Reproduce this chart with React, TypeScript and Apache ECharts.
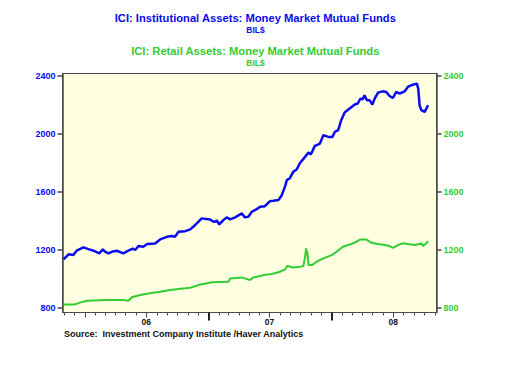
import React, { useEffect, useRef } from "react";
import * as echarts from "echarts";

// ICI: Institutional Assets: Money Market Mutual Funds (BIL$)
const instDates = [
  "2005-10-29", "2005-11-13", "2005-11-27", "2005-12-07", "2005-12-27", "2006-01-11", "2006-01-26",
  "2006-02-12", "2006-02-22", "2006-03-01", "2006-03-11", "2006-03-24", "2006-04-05", "2006-04-24",
  "2006-05-09", "2006-05-22", "2006-05-29", "2006-06-08", "2006-06-22", "2006-07-04", "2006-07-27",
  "2006-08-11", "2006-08-31", "2006-09-14", "2006-09-24", "2006-10-04", "2006-10-24", "2006-11-08",
  "2006-11-17", "2006-12-02", "2006-12-12", "2007-01-06", "2007-01-16", "2007-01-26", "2007-02-02",
  "2007-02-14", "2007-02-24", "2007-03-06", "2007-03-21", "2007-04-10", "2007-04-19", "2007-04-29",
  "2007-05-09", "2007-05-24", "2007-06-03", "2007-06-17", "2007-07-02", "2007-07-12", "2007-07-27",
  "2007-08-06", "2007-08-16", "2007-08-21", "2007-08-30", "2007-09-09", "2007-09-19", "2007-09-29",
  "2007-10-14", "2007-10-24", "2007-10-31", "2007-11-12", "2007-11-27", "2007-12-07", "2007-12-22",
  "2008-01-03", "2008-01-10", "2008-01-20", "2008-01-29", "2008-02-08", "2008-02-23", "2008-03-09",
  "2008-03-18", "2008-03-26", "2008-04-02", "2008-04-07", "2008-04-14", "2008-04-22", "2008-04-30",
  "2008-05-07", "2008-05-17", "2008-05-31", "2008-06-10", "2008-06-20", "2008-06-30", "2008-07-10",
  "2008-07-20", "2008-08-04", "2008-08-13", "2008-08-28", "2008-09-09", "2008-09-13", "2008-09-17",
  "2008-09-22", "2008-10-02", "2008-10-07", "2008-10-12",
];
const instValues = [
  1135, 1170, 1165, 1195, 1218, 1206, 1195,
  1177, 1204, 1188, 1177, 1190, 1195, 1177,
  1195, 1209, 1200, 1227, 1222, 1241, 1245,
  1273, 1291, 1296, 1291, 1325, 1330, 1342,
  1360, 1394, 1418, 1411, 1394, 1402, 1376,
  1406, 1425, 1411, 1425, 1452, 1425, 1429,
  1463, 1482, 1498, 1502, 1537, 1539, 1544,
  1578, 1640, 1682, 1695, 1739, 1755, 1800,
  1842, 1872, 1858, 1918, 1934, 1991, 1980,
  1980, 2014, 2026, 2095, 2148, 2175, 2203,
  2210, 2244, 2239, 2267, 2233, 2233, 2203,
  2244, 2285, 2294, 2290, 2262, 2248, 2290,
  2279, 2294, 2324, 2340, 2347, 2313, 2198,
  2164, 2152, 2175, 2198,
];

// ICI: Retail Assets: Money Market Mutual Funds (BIL$)
const retailDates = [
  "2005-10-29", "2005-12-02", "2005-12-17", "2006-01-06", "2006-03-06", "2006-04-24", "2006-05-09",
  "2006-05-19", "2006-06-13", "2006-07-12", "2006-08-11", "2006-09-09", "2006-10-04", "2006-11-08",
  "2006-12-02", "2007-01-11", "2007-03-01", "2007-03-06", "2007-04-10", "2007-04-19", "2007-05-04",
  "2007-05-14", "2007-06-03", "2007-06-12", "2007-07-07", "2007-08-01", "2007-08-16", "2007-08-22",
  "2007-09-09", "2007-09-29", "2007-10-09", "2007-10-14", "2007-10-17", "2007-10-21", "2007-10-24",
  "2007-11-03", "2007-11-17", "2007-12-07", "2008-01-01", "2008-01-15", "2008-02-03", "2008-02-28",
  "2008-03-14", "2008-03-26", "2008-04-12", "2008-04-27", "2008-05-17", "2008-06-06", "2008-06-20",
  "2008-06-30", "2008-07-15", "2008-07-30", "2008-08-13", "2008-09-02", "2008-09-17", "2008-09-22",
  "2008-09-27", "2008-10-07", "2008-10-12",
];
const retailValues = [
  825, 825, 837, 850, 855, 855, 850,
  874, 890, 901, 912, 924, 931, 940,
  958, 977, 981, 1004, 1011, 1004, 993,
  1011, 1020, 1027, 1034, 1050, 1066, 1089,
  1080, 1084, 1089, 1153, 1211, 1177, 1096,
  1096, 1119, 1142, 1165, 1188, 1222, 1241,
  1257, 1273, 1273, 1250, 1241, 1234, 1227,
  1215, 1234, 1246, 1241, 1234, 1241, 1246,
  1227, 1246, 1261,
];

const yTickValues = [800, 1200, 1600, 2000, 2400];
const yearLabels = ["06", "07", "08"];
const yearLabelDates = ["2006-07-01", "2007-07-01", "2008-07-01"];
const longTickDates = ["2007-01-01", "2008-01-01"];
const midTickDates = ["2006-01-01", "2006-07-01", "2007-07-01", "2008-07-01"];
const axisStart = "2005-10-26";
const axisEnd = "2008-11-06";

const BLUE = "#0a0af0";
const GREEN = "#33cc33";
const AXIS = "#4a4a4a";
const FONT = "Liberation Sans, Arial, sans-serif";

function ts(s: string): number {
  const [y, m, d] = s.split("-").map(Number);
  return Date.UTC(y, m - 1, d);
}

function monthTicks(): number[] {
  const out: number[] = [];
  const start = ts(axisStart);
  const end = ts(axisEnd);
  for (let y = 2005; y <= 2008; y++) {
    for (let m = 0; m < 12; m++) {
      const t = Date.UTC(y, m, 1);
      if (t >= start && t <= end) out.push(t);
    }
  }
  return out;
}

export default function App() {
  const ref = useRef<HTMLDivElement>(null);

  useEffect(() => {
    if (!ref.current) return;
    const chart = echarts.init(ref.current, undefined, { renderer: "svg" });
    const minT = ts(axisStart);
    const maxT = ts(axisEnd);
    const labelTs = yearLabelDates.map(ts);

    const baseX = {
      type: "value" as const,
      min: minT,
      max: maxT,
      position: "bottom" as const,
      splitLine: { show: false },
      minorTick: { show: false },
    };

    const yLabel = (color: string, margin: number) => ({
      customValues: yTickValues,
      color,
      fontSize: 9,
      fontWeight: "bold",
      fontFamily: FONT,
      margin,
      formatter: (v: number) => String(Math.round(v)),
    });

    const option: any = {
      animation: false,
      backgroundColor: "#ffffff",
      grid: {
        left: 62.5,
        right: 74.5,
        top: 73.5,
        bottom: 56.5,
        show: true,
        backgroundColor: "#ffffe0",
        borderColor: AXIS,
        borderWidth: 1,
        containLabel: false,
        outerBoundsMode: "none",
      },
      xAxis: [
        {
          ...baseX,
          axisLine: { show: true, lineStyle: { color: AXIS, width: 1 } },
          axisTick: {
            show: true,
            length: 3,
            customValues: monthTicks(),
            lineStyle: { color: AXIS, width: 1 },
          },
          axisLabel: { show: false },
        },
        {
          ...baseX,
          axisLine: { show: false },
          axisTick: {
            show: true,
            length: 5,
            customValues: midTickDates.map(ts),
            lineStyle: { color: AXIS, width: 1 },
          },
          axisLabel: {
            show: true,
            customValues: labelTs,
            margin: 5,
            color: "#111",
            fontSize: 8.5,
            fontWeight: "bold",
            fontFamily: FONT,
            formatter: (v: number) => {
              let best = 0;
              for (let i = 1; i < labelTs.length; i++) {
                if (Math.abs(labelTs[i] - v) < Math.abs(labelTs[best] - v)) best = i;
              }
              return yearLabels[best];
            },
          },
        },
        {
          ...baseX,
          axisLine: { show: false },
          axisTick: {
            show: true,
            length: 8,
            customValues: longTickDates.map(ts),
            lineStyle: { color: "#222", width: 2 },
          },
          axisLabel: { show: false },
        },
      ],
      yAxis: [
        {
          type: "value",
          position: "left",
          min: 769,
          max: 2417,
          splitLine: { show: false },
          axisLine: { show: true, lineStyle: { color: AXIS, width: 1.5 } },
          axisTick: { show: true, length: 5, customValues: yTickValues, lineStyle: { color: AXIS, width: 1.5 } },
          axisLabel: yLabel(BLUE, 7),
        },
        {
          type: "value",
          position: "right",
          min: 769,
          max: 2417,
          splitLine: { show: false },
          axisLine: { show: true, lineStyle: { color: AXIS, width: 1.5 } },
          axisTick: { show: true, length: 5, customValues: yTickValues, lineStyle: { color: AXIS, width: 1.5 } },
          axisLabel: yLabel(GREEN, 7),
        },
      ],
      graphic: [
        {
          type: "text",
          left: "center",
          top: 12,
          style: {
            text: "ICI: Institutional Assets: Money Market Mutual Funds",
            fill: BLUE,
            font: `bold 11.2px ${FONT}`,
          },
        },
        {
          type: "text",
          left: "center",
          top: 25,
          style: { text: "BIL$", fill: BLUE, font: `bold 8.5px ${FONT}` },
        },
        {
          type: "text",
          left: "center",
          top: 45,
          style: {
            text: "ICI: Retail Assets: Money Market Mutual Funds",
            fill: GREEN,
            font: `bold 11.2px ${FONT}`,
          },
        },
        {
          type: "text",
          left: "center",
          top: 58,
          style: { text: "BIL$", fill: GREEN, font: `bold 8.5px ${FONT}` },
        },
        {
          type: "text",
          left: 64,
          top: 329,
          style: {
            text: "Source:  Investment Company Institute /Haver Analytics",
            fill: "#111",
            font: `bold 9px ${FONT}`,
          },
        },
      ],
      series: [
        {
          name: "ICI: Retail Assets: Money Market Mutual Funds",
          type: "line",
          xAxisIndex: 0,
          yAxisIndex: 1,
          showSymbol: false,
          symbol: "none",
          lineStyle: { color: GREEN, width: 2 },
          data: retailDates.map((d, i) => [ts(d), retailValues[i]]),
          z: 3,
        },
        {
          name: "ICI: Institutional Assets: Money Market Mutual Funds",
          type: "line",
          xAxisIndex: 0,
          yAxisIndex: 0,
          showSymbol: false,
          symbol: "none",
          lineStyle: { color: BLUE, width: 2.5 },
          data: instDates.map((d, i) => [ts(d), instValues[i]]),
          z: 4,
        },
      ],
    };

    chart.setOption(option);
    return () => chart.dispose();
  }, []);

  return (
    <div
      ref={ref}
      style={{ position: "absolute", left: 0, top: 0, width: 511, height: 369, background: "#fff" }}
    />
  );
}
